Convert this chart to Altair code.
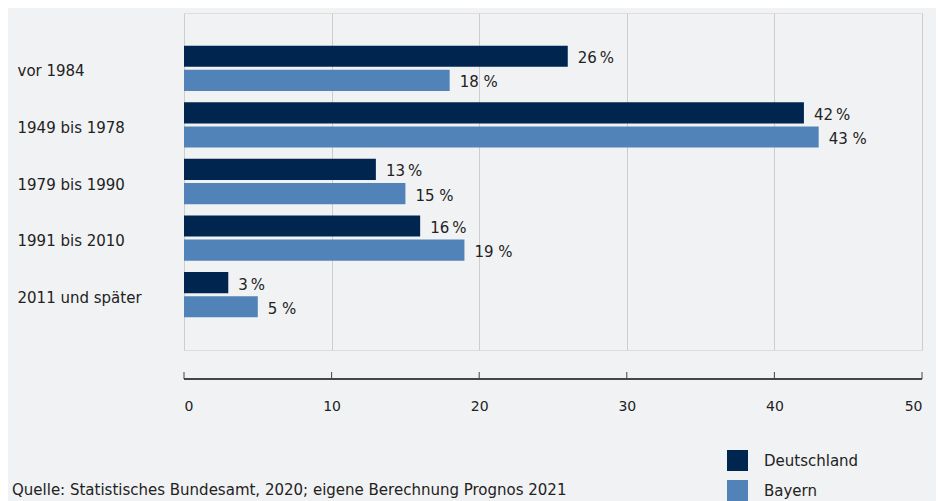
import altair as alt
import pandas as pd

categories = ["vor 1984", "1949 bis 1978", "1979 bis 1990", "1991 bis 2010", "2011 und später"]
series = ["Deutschland", "Bayern"]
deutschland = [26, 42, 13, 16, 3]
bayern = [18, 43, 15, 19, 5]
x_ticks = [0, 10, 20, 30, 40, 50]
source = "Quelle: Statistisches Bundesamt, 2020; eigene Berechnung Prognos 2021"
colors = ["#00264f", "#5283b8"]

rows = []
for c, d, b in zip(categories, deutschland, bayern):
    rows.append({"cat": c, "series": "Deutschland", "value": d, "label": f"{d}\u202f%"})
    rows.append({"cat": c, "series": "Bayern", "value": b, "label": f"{b} %"})
df = pd.DataFrame(rows)
ticks_df = pd.DataFrame({"value": x_ticks})
src_df = pd.DataFrame({"t": [source]})

W, H = 738, 337
AX = 29
FONT = "DejaVu Sans"
FS = 15
TXT = "#222"

xenc = alt.X("value:Q", scale=alt.Scale(domain=[0, 50], nice=False, zero=True),
             axis=alt.Axis(values=x_ticks, format="d", grid=True, gridColor="#cdcdcd",
                           domain=False, ticks=False, labelPadding=49, labelFontSize=14,
                           labelFont=FONT, labelColor=TXT, title=None))
yenc = alt.Y("cat:N", sort=categories,
             scale=alt.Scale(paddingInner=0.2, paddingOuter=0.578),
             axis=alt.Axis(title=None, domain=False, ticks=False, labelAlign="left",
                           labelPadding=167, labelFontSize=FS, labelColor=TXT,
                           labelOffset=3, labelFont=FONT, labelLimit=300, grid=False))
yoff = alt.YOffset("series:N", sort=series,
                   scale=alt.Scale(paddingInner=0.125, paddingOuter=0))

base = alt.Chart(df).encode(x=xenc, y=yenc, yOffset=yoff)

bars = base.mark_bar().encode(
    color=alt.Color("series:N", sort=series,
                    scale=alt.Scale(domain=series, range=colors),
                    legend=alt.Legend(title=None, orient="none", legendX=543, legendY=437,
                                      symbolType="square", symbolSize=441,
                                      symbolStrokeWidth=0, labelFontSize=FS,
                                      labelFont=FONT,
                                      labelColor=TXT, rowPadding=9, labelOffset=16,
                                      padding=0))
)
labels = base.mark_text(align="left", dx=10, dy=2, fontSize=FS, font=FONT,
                        color=TXT).encode(text="label:N")

axis_line = alt.Chart(ticks_df).mark_rule(color="#444", strokeWidth=1).encode(
    x=alt.value(0), x2=alt.value(W), y=alt.value(H + AX))
tick_marks = alt.Chart(ticks_df).mark_rule(color="#444", strokeWidth=1).encode(
    x=alt.X("value:Q"), y=alt.value(H + AX - 7), y2=alt.value(H + AX))
src = alt.Chart(src_df).mark_text(align="left", baseline="middle", fontSize=FS,
                                  font=FONT, color=TXT).encode(
    x=alt.value(-172), y=alt.value(477), text="t:N")

chart = alt.layer(bars, labels, axis_line, tick_marks, src).properties(
    width=W, height=H,
    autosize=alt.AutoSizeParams(type="none"),
    padding={"left": 176, "top": 5, "right": 14, "bottom": 170},
    background="#f1f2f4",
).configure_view(stroke=None).configure(font=FONT)

chart.save("out.html", embed_options={"renderer": "svg", "actions": False})
